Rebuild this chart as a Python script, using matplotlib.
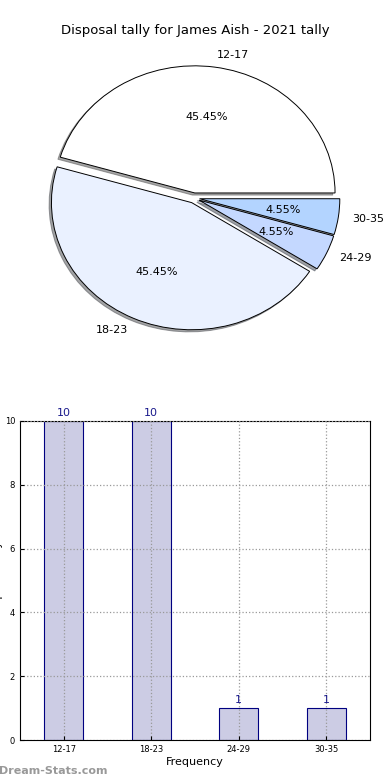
import matplotlib
matplotlib.use("Agg")
import matplotlib.pyplot as plt
import numpy as np

categories = ["12-17", "18-23", "24-29", "30-35"]
values = [10, 10, 1, 1]
pie_colors = ["#ffffff", "#eaf1ff", "#c4d8ff", "#b3d4ff"]
explode = [0.04, 0.04, 0.04, 0.04]
title = "Disposal tally for James Aish - 2021 tally"

fig = plt.figure(figsize=(3.9, 7.8), dpi=100)
W, H = 390.0, 780.0

# Pie axes (center ~ (194, 198) px)
axp = fig.add_axes([(194 - 172.5) / W, 1 - (198 + 164) / H, 345 / W, 328 / H])
wedges, texts, autotexts = axp.pie(
    values, labels=categories, colors=pie_colors, explode=explode,
    autopct="%1.2f%%", shadow=dict(ox=-0.012, oy=-0.012, shade=0.7), startangle=0,
    wedgeprops=dict(edgecolor="black", linewidth=0.7),
    textprops=dict(fontsize=8))
axp.set_aspect("auto")
axp.set_xlim(-1.23, 1.23)
axp.set_ylim(-1.29, 1.29)
axp.axis("off")

fig.text(0.5, 1 - 30.5 / H, title, ha="center", va="center", fontsize=9.5)

# Bar axes
axb = fig.add_axes([20 / W, 40 / H, 350 / W, 319 / H])
x = np.arange(len(categories))
bars = axb.bar(x, values, width=0.45, color="#ccccE4", edgecolor="#000080", linewidth=0.8)
for xi, v in zip(x, values):
    axb.text(xi, v + 0.1, str(v), ha="center", va="bottom", fontsize=8, color="#1a1a8c")
axb.set_xlim(-0.5, 3.5)
axb.set_ylim(0, 10)
axb.set_xticks(x)
axb.set_xticklabels(categories)
axb.set_yticks([0, 2, 4, 6, 8, 10])
axb.tick_params(labelsize=6, direction="in", length=3, top=False, right=False)
axb.grid(True, linestyle=":", color="#999999", linewidth=0.9)
axb.set_axisbelow(False)
axb.set_xlabel("Frequency", fontsize=8, labelpad=2)
for s in axb.spines.values():
    s.set_linewidth(0.8)

fig.text(-1.5 / W, 1 - 578 / H, "Disposal Tally", rotation=90, ha="center", va="center", fontsize=8)
fig.text(-1 / W, 1 - 771 / H, "Dream-Stats.com", ha="left", va="center", fontsize=8,
         color="#999999", fontweight="bold")

fig.savefig("out.png", dpi=100)
